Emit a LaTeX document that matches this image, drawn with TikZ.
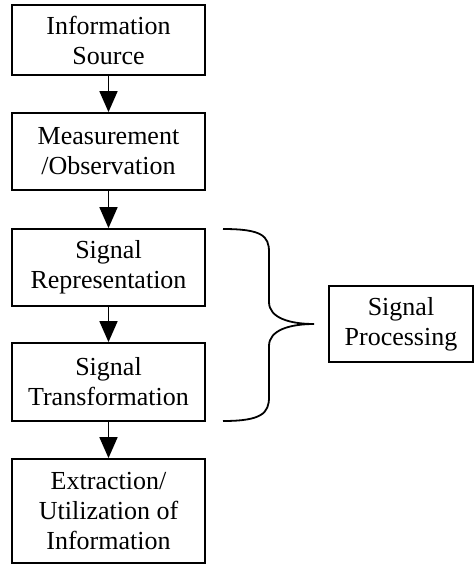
\documentclass[tikz,border=0pt]{standalone}
\usepackage{fontspec}
\setmainfont{Liberation Serif}
\usetikzlibrary{arrows.meta}
\begin{document}
\begin{tikzpicture}[x=1pt,y=1pt,
  box/.style={draw, line width=1.8pt, minimum width=193pt, align=center, inner sep=0pt,
    font=\fontsize{26}{30}\selectfont},
  flow/.style={line width=1.8pt, -{Triangle[width=18pt,length=21pt]}},
  brace/.style={line width=1.8pt}]
\useasboundingbox (0,0) rectangle (474,-565);
\node[box, minimum height=70pt] (b1) at (108.5,-40) {Information\\Source};
\node[box, minimum height=77pt] (b2) at (108.5,-151.5) {Measurement\\/Observation};
\node[box, minimum height=77pt] (b3) at (108.5,-267.5) {Signal\\Representation};
\node[box, minimum height=78pt] (b4) at (108.5,-382) {Signal\\Transformation};
\node[box, minimum height=104pt] (b5) at (108.5,-511) {Extraction/\\Utilization of\\Information};
\node[box, minimum width=144pt, minimum height=76pt] (sp) at (401,-324) {Signal\\Processing};
\draw[flow] (b1) -- (b2);
\draw[flow] (b2) -- (b3);
\draw[flow] (b3) -- (b4);
\draw[flow] (b4) -- (b5);
\coordinate (bt) at (223,-229);
\coordinate (bb) at (223,-421);
\coordinate (tip) at (314,-324);
\draw[brace] (bt) .. controls (262,-229) and (269,-236) .. (269,-252)
  -- (269,-302) .. controls (269,-318) and (290,-324) .. (tip)
  .. controls (290,-324) and (269,-330) .. (269,-346)
  -- (269,-397) .. controls (269,-413) and (262,-421) .. (bb);
\end{tikzpicture}
\end{document}
